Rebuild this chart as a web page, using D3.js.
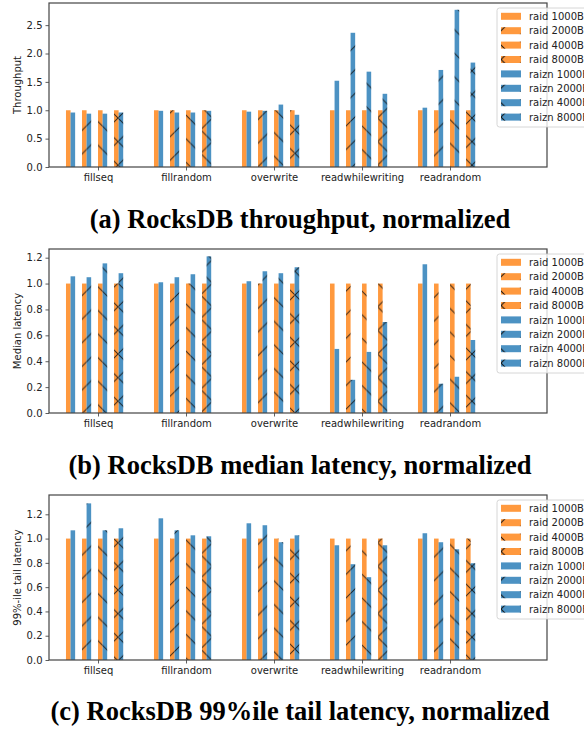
<!DOCTYPE html>
<html>
<head>
<meta charset="utf-8">
<script src="https://cdn.jsdelivr.net/npm/d3@7"></script>
<style>
  body { margin: 0; background: #fff; }
  svg { display: block; }
  .tick text { font-family: "DejaVu Sans", sans-serif; font-size: 10px; fill: #222; }
</style>
</head>
<body>
<svg id="chart" width="584" height="729"></svg>
<script>
// workloads on the x axis
var categories = ["fillseq", "fillrandom", "overwrite", "readwhilewriting", "readrandom"];
var sizes = ["1000B", "2000B", "4000B", "8000B"];
var hatches = ["none", "fwd", "back", "cross"];

// raid is the baseline, so every raid bar is 1.0
var raidThroughput = [[1, 1, 1, 1], [1, 1, 1, 1], [1, 1, 1, 1], [1, 1, 1, 1], [1, 1, 1, 1]];
var raiznThroughput = [
   [0.96, 0.94, 0.94, 0.96],
   [0.99, 0.96, 0.96, 0.99],
   [0.975, 0.99, 1.10, 0.92],
   [1.52, 2.365, 1.68, 1.29],
   [1.045, 1.71, 2.77, 1.84]
];

var raidMedian = [[1, 1, 1, 1], [1, 1, 1, 1], [1, 1, 1, 1], [1, 1, 1, 1], [1, 1, 1, 1]];
var raiznMedian = [
   [1.056, 1.049, 1.156, 1.08],
   [1.01, 1.049, 1.072, 1.21],
   [1.018, 1.095, 1.08, 1.126],
   [0.495, 0.256, 0.472, 0.703],
   [1.149, 0.226, 0.28, 0.564]
];

var raidTail = [[1, 1, 1, 1], [1, 1, 1, 1], [1, 1, 1, 1], [1, 1, 1, 1], [1, 1, 1, 1]];
var raiznTail = [
   [1.068, 1.29, 1.068, 1.085],
   [1.167, 1.068, 1.027, 1.019],
   [1.126, 1.11, 0.97, 1.027],
   [0.945, 0.789, 0.682, 0.945],
   [1.044, 0.97, 0.912, 0.797]
];

var yTicksThroughput = [0, 0.5, 1.0, 1.5, 2.0, 2.5];
var yTicksLatency = [0, 0.2, 0.4, 0.6, 0.8, 1.0, 1.2];

var panels = [
   { raid: raidThroughput, raizn: raiznThroughput, yMax: 2.89, ticks: yTicksThroughput,
     label: "Throughput", title: "(a) RocksDB throughput, normalized", top: 3, bottom: 167, titleY: 228 },
   { raid: raidMedian, raizn: raiznMedian, yMax: 1.267, ticks: yTicksLatency,
     label: "Median latency", title: "(b) RocksDB median latency, normalized", top: 249, bottom: 413, titleY: 474 },
   { raid: raidTail, raizn: raiznTail, yMax: 1.359, ticks: yTicksLatency,
     label: "99%-ile tail latency", title: "(c) RocksDB 99%ile tail latency, normalized", top: 495, bottom: 660, titleY: 720 }
];

var orange = "#ff7f0e", blue = "#1f77b4";
var left = 49, right = 547;
var barW = 0.052, pairStep = 0.182;
var P = 23.6; // hatch spacing in px

var svg = d3.select("#chart");
var defs = svg.append("defs");

function addHatch(id, d) {
   defs.append("pattern")
      .attr("id", id)
      .attr("patternUnits", "userSpaceOnUse")
      .attr("width", P).attr("height", P)
      .append("path")
      .attr("d", d)
      .attr("stroke", "#111")
      .attr("stroke-width", 1)
      .attr("fill", "none");
}
addHatch("fwd", "M0," + P + "L" + P + ",0M-2,2L2,-2M" + (P - 2) + "," + (P + 2) + "L" + (P + 2) + "," + (P - 2));
addHatch("back", "M0,0L" + P + "," + P + "M-2," + (P - 2) + "L2," + (P + 2) + "M" + (P - 2) + ",-2L" + (P + 2) + ",2");
addHatch("cross", "M0," + P + "L" + P + ",0M-2,2L2,-2M" + (P - 2) + "," + (P + 2) + "L" + (P + 2) + "," + (P - 2) +
   "M0,0L" + P + "," + P + "M-2," + (P - 2) + "L2," + (P + 2) + "M" + (P - 2) + ",-2L" + (P + 2) + ",2");

var x = d3.scaleLinear().domain([-0.557, 5.102]).range([left, right]);

function drawPanel(p) {
   var g = svg.append("g");
   var y = d3.scaleLinear().domain([0, p.yMax]).range([p.bottom, p.top]);

   // flatten into bars
   var bars = [];
   categories.forEach(function(c, i) {
      sizes.forEach(function(s, j) {
         var x0 = i + (j - 2) * pairStep;
         bars.push({ x0: x0, v: p.raid[i][j], color: orange, hatch: hatches[j] });
         bars.push({ x0: x0 + barW, v: p.raizn[i][j], color: blue, hatch: hatches[j] });
      });
   });

   var sel = g.selectAll("g.bar").data(bars).enter().append("g").attr("class", "bar");
   sel.append("rect")
      .attr("x", function(d) { return x(d.x0); })
      .attr("y", function(d) { return y(d.v); })
      .attr("width", function(d) { return x(d.x0 + barW) - x(d.x0); })
      .attr("height", function(d) { return y(0) - y(d.v); })
      .attr("fill", function(d) { return d.color; })
      .attr("fill-opacity", 0.8);
   sel.filter(function(d) { return d.hatch != "none"; })
      .append("rect")
      .attr("x", function(d) { return x(d.x0); })
      .attr("y", function(d) { return y(d.v); })
      .attr("width", function(d) { return x(d.x0 + barW) - x(d.x0); })
      .attr("height", function(d) { return y(0) - y(d.v); })
      .attr("fill", function(d) { return "url(#" + d.hatch + ")"; })
      .attr("opacity", 0.85);

   // axes
   var yAxis = d3.axisLeft(y).tickValues(p.ticks).tickFormat(d3.format(".1f")).tickSize(3.5).tickPadding(3);
   var ya = g.append("g").attr("transform", "translate(" + left + ",0)").call(yAxis);
   ya.select(".domain").remove();
   ya.selectAll(".tick line").attr("stroke", "#333").attr("stroke-width", 0.8);

   var xAxis = d3.axisBottom(x).tickValues(d3.range(categories.length))
      .tickFormat(function(i) { return categories[i]; }).tickSize(3.5).tickPadding(3);
   var xa = g.append("g").attr("transform", "translate(0," + p.bottom + ")").call(xAxis);
   xa.select(".domain").remove();
   xa.selectAll(".tick line").attr("stroke", "#333").attr("stroke-width", 0.8);

   g.append("rect")
      .attr("x", left).attr("y", p.top)
      .attr("width", right - left).attr("height", p.bottom - p.top)
      .attr("fill", "none").attr("stroke", "#444").attr("stroke-width", 1.2);

   g.append("text")
      .attr("transform", "translate(21," + ((p.top + p.bottom) / 2) + ") rotate(-90)")
      .attr("text-anchor", "middle")
      .style("font-family", "DejaVu Sans, sans-serif")
      .style("font-size", "10px")
      .style("fill", "#222")
      .text(p.label);

   // legend
   var lg = g.append("g").attr("transform", "translate(497," + (p.top + 5) + ")");
   lg.append("rect")
      .attr("width", 100).attr("height", 119).attr("rx", 2.5)
      .attr("fill", "#fff").attr("fill-opacity", 0.8)
      .attr("stroke", "#ccc").attr("stroke-width", 0.8);
   var items = [];
   ["raid", "raizn"].forEach(function(name, k) {
      sizes.forEach(function(s, j) {
         items.push({ label: name + " " + s, color: k == 0 ? orange : blue, hatch: hatches[j] });
      });
   });
   var it = lg.selectAll("g.item").data(items).enter().append("g").attr("class", "item")
      .attr("transform", function(d, i) { return "translate(4," + (8.3 + i * 14.4) + ")"; });
   it.append("rect").attr("x", 0).attr("y", -3.5).attr("width", 20).attr("height", 7)
      .attr("fill", function(d) { return d.color; }).attr("fill-opacity", 0.8);
   it.filter(function(d) { return d.hatch != "none"; })
      .append("rect").attr("x", 0).attr("y", -3.5).attr("width", 20).attr("height", 7)
      .attr("fill", function(d) { return "url(#" + d.hatch + ")"; });
   it.append("text").attr("x", 28).attr("y", 3.6)
      .style("font-family", "DejaVu Sans, sans-serif")
      .style("font-size", "10px")
      .style("fill", "#222")
      .text(function(d) { return d.label; });

   svg.append("text")
      .attr("x", 300).attr("y", p.titleY)
      .attr("text-anchor", "middle")
      .style("font-family", "Liberation Serif, serif")
      .style("font-weight", "bold")
      .style("font-size", "26.5px")
      .text(p.title);
}

panels.forEach(drawPanel);
</script>
</body>
</html>
